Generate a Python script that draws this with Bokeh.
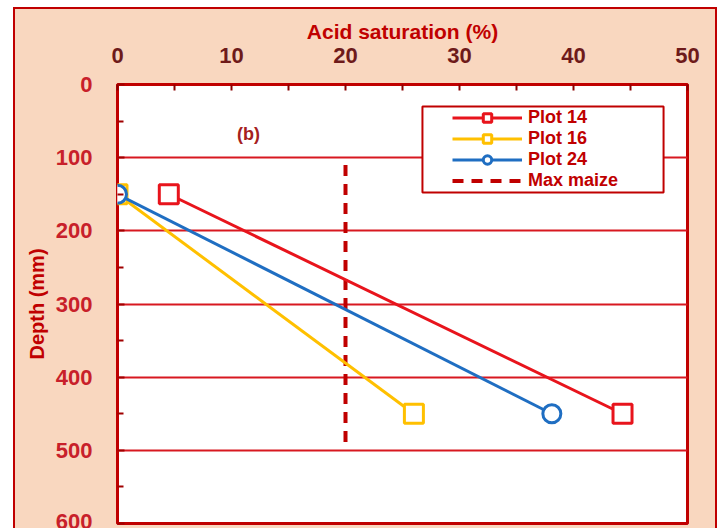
from bokeh.plotting import figure
from bokeh.models import Range1d, FixedTicker, Legend, LegendItem, BoxAnnotation, Label
from bokeh.embed import file_html
from bokeh.resources import INLINE

# ---- data ----
depth = [150, 450]
plot14 = [4.5, 44.3]
plot16 = [0, 26]
plot24 = [0, 38.1]
max_maize_x = [20, 20]
max_maize_depth = [110, 490]
x_ticks = [0, 10, 20, 30, 40, 50]
x_minor = [5, 15, 25, 35, 45]
y_ticks = [0, 100, 200, 300, 400, 500, 600]
y_minor = [50, 150, 250, 350, 450, 550]
series_labels = ["Plot 14", "Plot 16", "Plot 24", "Max maize"]

# ---- style ----
BG = "#F9D7BF"
DARKRED = "#C00000"
RED = "#E8141C"
YELLOW = "#FFC000"
BLUE = "#1F6EC2"
FONT = "Liberation Sans"

p = figure(width=717, height=521, output_backend="svg", toolbar_location=None,
           x_range=Range1d(0, 50), y_range=Range1d(600, 0),
           x_axis_location="above",
           min_border_left=117, min_border_right=30, min_border_top=77, min_border_bottom=5)
line = "linear-gradient(#C00000, #C00000)"
p.styles = {
    "margin-top": "7px",
    "background": (f"{line} left 13px top 0 / 2px 100% no-repeat, "
                   f"{line} left 13px top 0 / calc(100% - 13px) 2px no-repeat, "
                   f"{line} right 0 top 0 / 2px 100% no-repeat, "
                   f"linear-gradient(to right, #FFFFFF 13px, {BG} 13px)"),
}
p.background_fill_color = "white"
p.border_fill_alpha = 0
p.outline_line_color = DARKRED
p.outline_line_width = 3

# x axis (top)
xa = p.xaxis[0]
xa.ticker = FixedTicker(ticks=x_ticks, minor_ticks=x_minor)
xa.axis_label = "Acid saturation (%)"
xa.axis_label_text_font = FONT
xa.axis_label_text_font_style = "bold"
xa.axis_label_text_font_size = "21px"
xa.axis_label_text_color = DARKRED
xa.axis_label_standoff = 2
xa.major_label_text_font = FONT
xa.major_label_text_font_style = "bold"
xa.major_label_text_font_size = "22px"
xa.major_label_text_color = "#6E1A1A"
xa.major_label_standoff = 22
xa.axis_line_color = None
xa.major_tick_in = 6
xa.major_tick_out = 0
xa.minor_tick_in = 6
xa.minor_tick_out = 0
xa.major_tick_line_color = "#8B0000"
xa.minor_tick_line_color = "#8B0000"
xa.major_tick_line_width = 2
xa.minor_tick_line_width = 2

# y axis (left)
ya = p.yaxis[0]
ya.ticker = FixedTicker(ticks=y_ticks, minor_ticks=y_minor)
ya.axis_label = "Depth (mm)"
ya.axis_label_text_font = FONT
ya.axis_label_text_font_style = "bold"
ya.axis_label_text_font_size = "20px"
ya.axis_label_text_color = DARKRED
ya.axis_label_standoff = 5
ya.major_label_text_font = FONT
ya.major_label_text_font_style = "bold"
ya.major_label_text_font_size = "22px"
ya.major_label_text_color = "#C8202A"
ya.major_label_standoff = 25
ya.axis_line_color = None
ya.major_tick_in = 7
ya.major_tick_out = 0
ya.minor_tick_in = 6
ya.minor_tick_out = 0
ya.major_tick_line_color = "#A00000"
ya.minor_tick_line_color = "#A00000"
ya.major_tick_line_width = 2
ya.minor_tick_line_width = 2

p.xgrid.grid_line_color = None
p.ygrid.ticker = FixedTicker(ticks=y_ticks[1:-1])
p.ygrid.grid_line_color = "#D81820"
p.ygrid.grid_line_width = 2

# ---- glyphs ----
r_max = p.line(max_maize_x, max_maize_depth, line_color=DARKRED, line_width=4, line_dash="11 8")

l14 = p.line(plot14, depth, line_color=RED, line_width=3)
s14 = p.scatter(plot14, depth, marker="square", size=19, fill_color="white",
                line_color=RED, line_width=3)
l16 = p.line(plot16, depth, line_color=YELLOW, line_width=3)
s16 = p.scatter(plot16, depth, marker="square", size=19, fill_color="white",
                line_color=YELLOW, line_width=3)
l24 = p.line(plot24, depth, line_color=BLUE, line_width=3)
s24 = p.scatter(plot24, depth, marker="circle", size=18, fill_color="white",
                line_color=BLUE, line_width=3)

# "(b)" panel label
p.add_layout(Label(x=11.5, y=67, text="(b)", text_font=FONT, text_font_style="bold",
                   text_font_size="18px", text_color="#A52020",
                   text_align="center", text_baseline="middle"))

# legend frame
box = BoxAnnotation(left=26.75, right=47.9, top=30, bottom=147.5,
                    fill_color="white", fill_alpha=1, line_color=DARKRED, line_alpha=1,
                    line_width=2)
p.add_layout(box)

legend = Legend(items=[
    LegendItem(label=series_labels[0], renderers=[l14, s14]),
    LegendItem(label=series_labels[1], renderers=[l16, s16]),
    LegendItem(label=series_labels[2], renderers=[l24, s24]),
    LegendItem(label=series_labels[3], renderers=[r_max]),
], location=(335, 332))
legend.background_fill_alpha = 0
legend.border_line_color = None
legend.padding = 0
legend.margin = 0
legend.spacing = 0
legend.label_height = 21
legend.glyph_height = 21
legend.glyph_width = 70
legend.label_standoff = 6
legend.label_text_font = FONT
legend.label_text_font_style = "bold"
legend.label_text_font_size = "18px"
legend.label_text_color = DARKRED
p.add_layout(legend)

open("out.html", "w").write(file_html(p, INLINE))
